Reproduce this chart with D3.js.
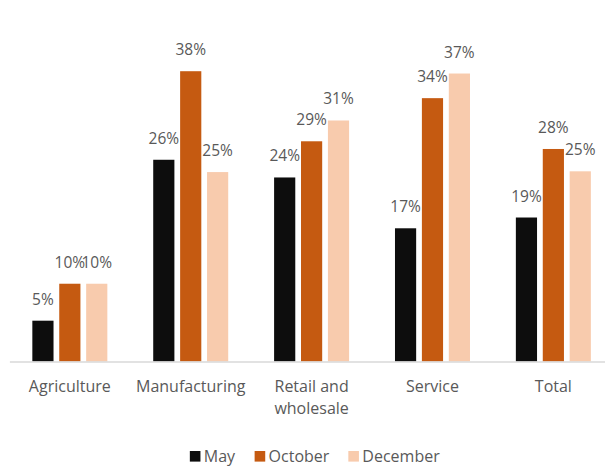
<!DOCTYPE html>
<html>
<head>
<meta charset="utf-8">
<script src="https://cdn.jsdelivr.net/npm/d3@7"></script>
<style>
  html, body { margin: 0; padding: 0; background: #ffffff; }
  svg { display: block; }
  text { font-family: "Open Sans", Lato, "Liberation Sans", sans-serif; fill: #595959; }
</style>
</head>
<body>
<svg id="chart" width="605" height="466"></svg>
<script>
// ---- data ----
const categories = ["Agriculture", "Manufacturing", "Retail and\nwholesale", "Service", "Total"];
const seriesNames = ["May", "October", "December"];
const mayValues      = [0.053, 0.262, 0.239, 0.173, 0.187];
const octoberValues  = [0.101, 0.377, 0.286, 0.342, 0.276];
const decemberValues = [0.101, 0.246, 0.313, 0.374, 0.247];
const seriesColors = ["#0d0d0d", "#c55a11", "#f8cbad"];

const seriesValues = [mayValues, octoberValues, decemberValues];

const svg = d3.select("#chart");

const groupSpan = 75;

const x0 = d3.scaleBand()
  .domain(categories)
  .range([9.4, 613.8])
  .paddingInner(0)
  .paddingOuter(0);

const x1 = d3.scaleBand()
  .domain(seriesNames)
  .range([0, groupSpan])
  .paddingInner(0.213)
  .paddingOuter(0);

const y = d3.scaleLinear().domain([0, 0.4]).range([361.5, 53.5]);

const rows = categories.map((c, i) => ({
  cat: c,
  vals: seriesNames.map((s, j) => ({ s, v: seriesValues[j][i], color: seriesColors[j] }))
}));

const groups = svg.append("g").selectAll("g")
  .data(rows)
  .join("g")
  .attr("transform", d => `translate(${x0(d.cat) + (x0.bandwidth() - groupSpan) / 2},0)`);

groups.selectAll("rect")
  .data(d => d.vals)
  .join("rect")
  .attr("x", d => x1(d.s))
  .attr("width", x1.bandwidth())
  .attr("y", d => y(d.v))
  .attr("height", d => y(0) - y(d.v))
  .attr("fill", d => d.color);

groups.selectAll("text.lbl")
  .data(d => d.vals)
  .join("text")
  .attr("class", "lbl")
  .attr("x", d => x1(d.s) + x1.bandwidth() / 2)
  .attr("y", d => y(d.v) - 16)
  .attr("text-anchor", "middle")
  .style("font-size", "15.5px")
  .text(d => d3.format(".0%")(d.v));

// x axis
const xAxis = d3.axisBottom(x0).tickSize(0).tickSizeOuter(0).tickFormat("");
const ax = svg.append("g").attr("transform", `translate(0,${y(0)})`).call(xAxis);
ax.select(".domain").attr("stroke", "#d9d9d9").attr("stroke-width", 1.3);

// category labels (multi-line)
svg.append("g").selectAll("text")
  .data(categories)
  .join("text")
  .attr("text-anchor", "middle")
  .attr("x", d => x0(d) + x0.bandwidth() / 2)
  .attr("y", 391.7)
  .style("font-size", "16px")
  .each(function(d) {
    const lines = d.split("\n");
    d3.select(this).selectAll("tspan")
      .data(lines)
      .join("tspan")
      .attr("x", x0(d) + x0.bandwidth() / 2)
      .attr("dy", (l, k) => k === 0 ? 0 : 21.8)
      .text(l => l);
  });

// legend
const legend = svg.append("g");
const items = legend.selectAll("g")
  .data(seriesNames.map((s, j) => ({ s, color: seriesColors[j] })))
  .join("g");
items.append("rect")
  .attr("width", 10.6).attr("height", 10.6)
  .attr("y", 451)
  .attr("fill", d => d.color);
items.append("text")
  .attr("x", 14)
  .attr("y", 461.7)
  .style("font-size", "16px")
  .text(d => d.s);
let widths = [];
items.each(function() { widths.push(this.getBBox().width); });
const gap = 18.5;
const total = d3.sum(widths) + gap * (widths.length - 1);
let cx = 315 - total / 2;
items.attr("transform", (d, i) => {
  const t = `translate(${cx},0)`;
  cx += widths[i] + gap;
  return t;
});
</script>
</body>
</html>
